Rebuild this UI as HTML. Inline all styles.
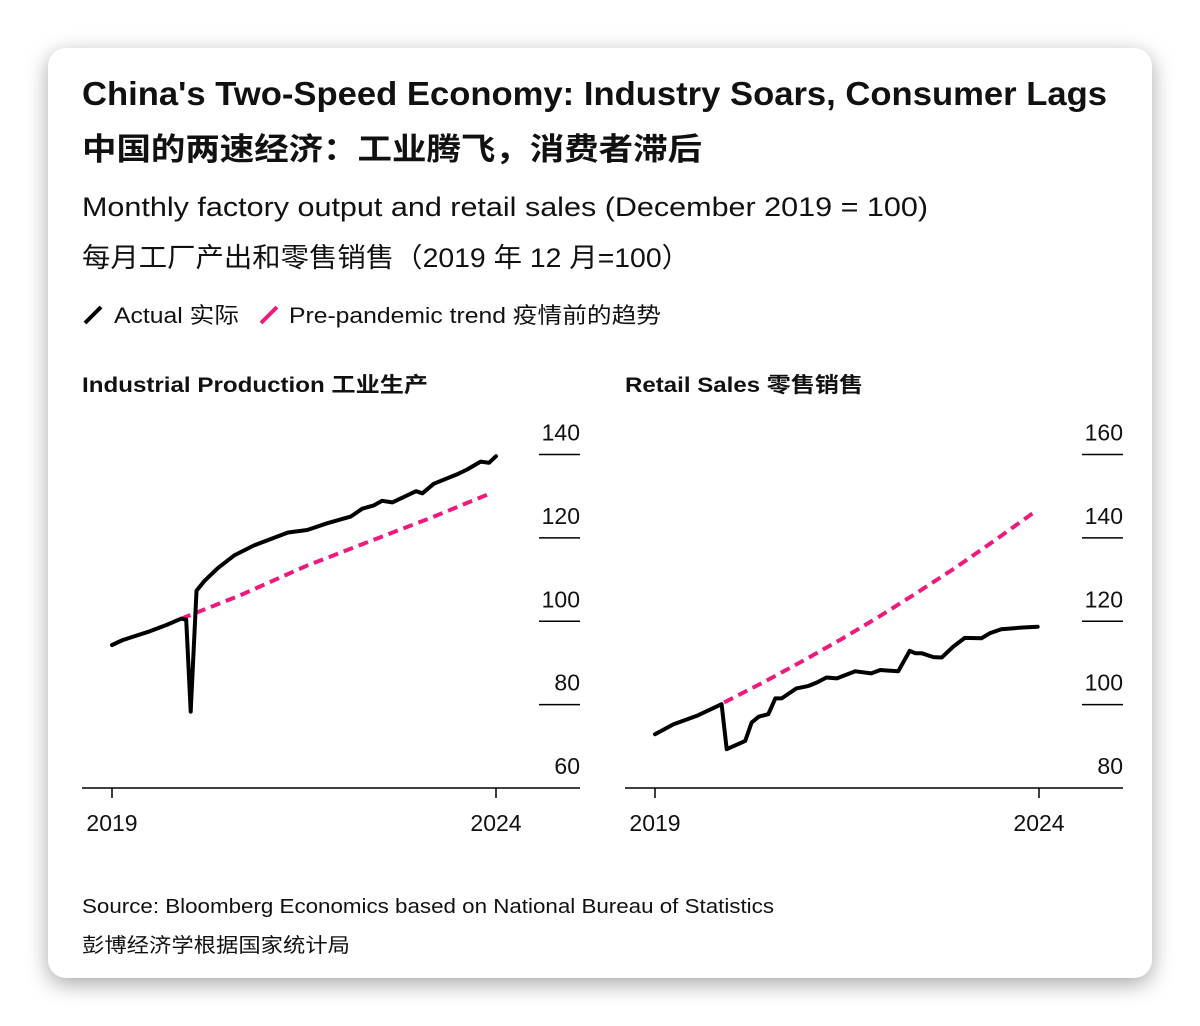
<!DOCTYPE html>
<html><head><meta charset="utf-8"><style>
html,body{margin:0;padding:0;background:#fff;}
body{width:1200px;height:1026px;overflow:hidden;position:relative;font-family:"Liberation Sans","Noto Sans CJK SC",sans-serif;}
#card{position:absolute;left:48px;top:48px;width:1104px;height:930px;background:#fff;border-radius:18px;box-shadow:0 6px 22px rgba(0,0,0,0.35);}
svg{position:absolute;left:0;top:0;}
text{font-family:"Liberation Sans","Noto Sans CJK SC",sans-serif;fill:#111;}
</style></head><body>
<div id="card"></div>
<svg id="chart" width="1200" height="1026">
<text x="82" y="105" font-size="33" font-weight="bold" textLength="1025" lengthAdjust="spacingAndGlyphs">China's Two-Speed Economy: Industry Soars, Consumer Lags</text>
<text x="82" y="160" font-size="31" font-weight="bold" fill="#2a2a2a" textLength="620" lengthAdjust="spacingAndGlyphs">中国的两速经济：工业腾飞，消费者滞后</text>
<text x="82" y="216" font-size="27" textLength="846" lengthAdjust="spacingAndGlyphs">Monthly factory output and retail sales (December 2019 = 100)</text>
<text x="82" y="267" font-size="27" fill="#333" textLength="608" lengthAdjust="spacingAndGlyphs">每月工厂产出和零售销售（2019 年 12 月=100）</text>
<g>
<line x1="85" y1="323" x2="101" y2="307" stroke="#000" stroke-width="4"/>
<text x="114" y="323" font-size="22" textLength="125" lengthAdjust="spacingAndGlyphs">Actual 实际</text>
<line x1="261" y1="323" x2="277" y2="307" stroke="#f0197d" stroke-width="4"/>
<text x="289" y="323" font-size="22" textLength="372" lengthAdjust="spacingAndGlyphs">Pre-pandemic trend 疫情前的趋势</text>
</g>
<text x="82" y="392" font-size="21" font-weight="bold" textLength="346" lengthAdjust="spacingAndGlyphs">Industrial Production 工业生产</text>
<text x="625" y="392" font-size="21" font-weight="bold" textLength="238" lengthAdjust="spacingAndGlyphs">Retail Sales 零售销售</text>
<text x="82" y="913" font-size="20" textLength="692" lengthAdjust="spacingAndGlyphs">Source: Bloomberg Economics based on National Bureau of Statistics</text>
<text x="82" y="952" font-size="20" fill="#333" textLength="268" lengthAdjust="spacingAndGlyphs">彭博经济学根据国家统计局</text>
<g id="p1"></g><g id="p2"></g>
</svg>
<script>
// Month index from Jan 2019 (0) ; 2024 tick at 60
const xTickLabels = ["2019","2024"];
const xTickMonths = [0,60];
const ipTicks = [60,80,100,120,140];
const rsTicks = [80,100,120,140,160];
const ipActualMonths = [0,1.7,5.9,8.5,10.8,11.6,12.3,13.2,14.4,16.5,19.1,22.2,27.5,30.5,33.6,37.3,39.1,40.9,42.2,43.8,47.5,48.5,50.3,54,55.5,57.6,58.9,60];
const ipActualValues = [94.3,95.5,97.6,99.1,100.6,100.4,78.3,107.3,109.6,112.7,115.8,118.2,121.3,121.9,123.5,125.1,127.0,127.8,128.9,128.5,131.2,130.7,133.0,135.3,136.4,138.3,138.0,139.6];
const ipTrendMonths = [10.8,20,30.4,40,50,59];
const ipTrendValues = [100.6,106.2,113.3,119,124.9,130.6];
const rsActualMonths = [0,2.9,6.5,10.4,11.2,14.1,15.1,16.2,17.7,18.8,19.8,22.1,24,25.3,26.8,28.4,31.3,33.8,35.2,38,39.8,40.7,41.7,43.5,44.8,46.6,48.4,51,52.3,54.1,57.5,59.8];
const rsActualValues = [92.9,95.3,97.3,100.1,89.3,91.3,95.7,97.1,97.7,101.5,101.5,103.9,104.5,105.3,106.5,106.3,108.0,107.5,108.3,108.0,112.9,112.3,112.3,111.4,111.3,113.9,116.0,115.9,117.1,118.1,118.5,118.7];
const rsTrendMonths = [10.8,17,23,29,35,41,47,53,59.1];
const rsTrendValues = [100.5,105.4,110.4,115.6,121.1,126.9,132.9,139.3,146.0];

const NS="http://www.w3.org/2000/svg";
function mk(parent,tag,attrs){const e=document.createElementNS(NS,tag);for(const k in attrs)e.setAttribute(k,attrs[k]);parent.appendChild(e);return e;}
function panel(gid,x0,ticks,aM,aV,tM,tV,prefix){
  const g=document.getElementById(gid);
  const xs=m=>x0+m*6.4;
  const vmin=ticks[0],vmax=ticks[ticks.length-1];
  const ys=v=>788-(v-vmin)/(vmax-vmin)*333.5;
  const ax=mk(g,'line',{x1:x0-30,y1:788,x2:x0+468,y2:788,stroke:'#000','stroke-width':1.5});
  
  
  ticks.forEach((t,i)=>{
    const y=ys(t);
    if(i>0){const l=mk(g,'line',{x1:x0+427,y1:y,x2:x0+468,y2:y,stroke:'#000','stroke-width':1.5});
      
      }
    const tx=mk(g,'text',{x:x0+468,y:(i>0?y-14:y-14),'font-size':23,'text-anchor':'end'});
    tx.textContent=t;
    
    
  });
  xTickMonths.forEach((m,i)=>{
    const x=xs(m);
    const l=mk(g,'line',{x1:x,y1:788,x2:x,y2:798,stroke:'#000','stroke-width':1.5});
    
    
    const tx=mk(g,'text',{x:x,y:831,'font-size':23,'text-anchor':'middle'});
    tx.textContent=xTickLabels[i];
    
    
  });
  const tp=mk(g,'path',{d:tM.map((m,i)=>(i?'L':'M')+xs(m).toFixed(1)+','+ys(tV[i]).toFixed(1)).join(''),fill:'none',stroke:'#f0197d','stroke-width':4,'stroke-dasharray':'10,6'});
  
  
  const ap=mk(g,'path',{d:aM.map((m,i)=>(i?'L':'M')+xs(m).toFixed(1)+','+ys(aV[i]).toFixed(1)).join(''),fill:'none',stroke:'#000','stroke-width':4,'stroke-linejoin':'round','stroke-linecap':'round'});
  
  
}
panel('p1',112,ipTicks,ipActualMonths,ipActualValues,ipTrendMonths,ipTrendValues,'industrial');
panel('p2',655,rsTicks,rsActualMonths,rsActualValues,rsTrendMonths,rsTrendValues,'retail');
</script>
</body></html>
